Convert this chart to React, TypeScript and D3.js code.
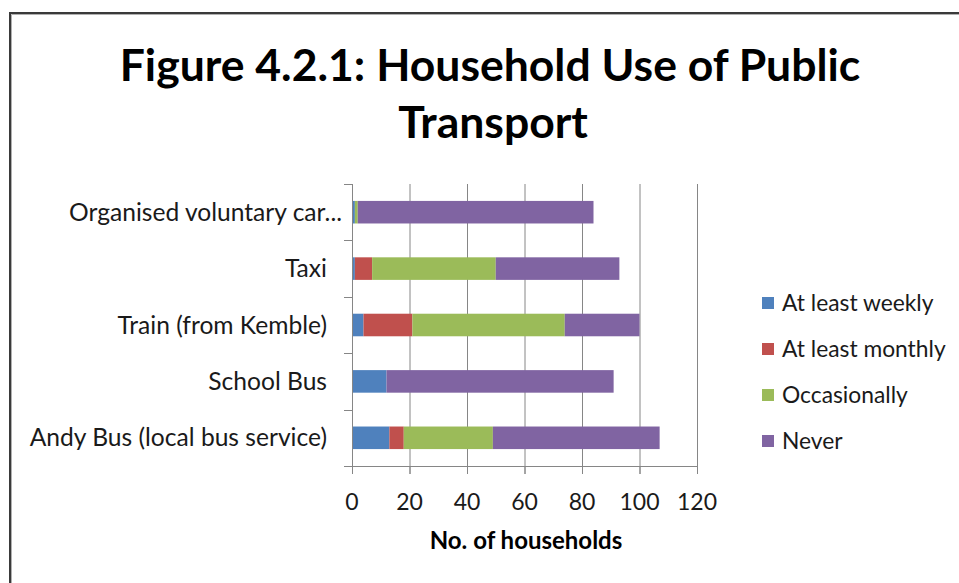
import * as d3 from "d3";
import { useLayoutEffect, useRef } from "react";

const categories = [
  "Organised voluntary car...",
  "Taxi",
  "Train (from Kemble)",
  "School Bus",
  "Andy Bus (local bus service)",
];
const seriesNames = ["At least weekly", "At least monthly", "Occasionally", "Never"];
const weekly = [1, 1, 4, 12, 13];
const monthly = [0, 6, 17, 0, 5];
const occasionally = [1, 43, 53, 0, 31];
const never = [82, 43, 26, 79, 58];
const xTicks = [0, 20, 40, 60, 80, 100, 120];
const colors = ["#4F81BD", "#C0504D", "#9BBB59", "#8064A2"];

const W = 959;
const H = 583;
const FONT = "Lato, 'Open Sans', sans-serif";

export default function App() {
  const ref = useRef<SVGSVGElement>(null);

  useLayoutEffect(() => {
    const svg = d3.select(ref.current);
    svg.selectAll("*").remove();

    // frame
    svg.append("path").attr("d", `M10,${H} V13 H${W}`).attr("fill", "none").attr("stroke", "#3a3a3a").attr("stroke-width", 2);
    svg.append("path").attr("d", `M11.5,${H} V14.5 H${W}`).attr("fill", "none").attr("stroke", "#b0b0b0").attr("stroke-width", 1);

    // title
    const title = svg.append("text").attr("text-anchor", "middle").attr("font-family", FONT)
      .attr("font-weight", "bold").attr("font-size", 44.5).attr("fill", "#000");
    title.append("tspan").attr("x", 490).attr("y", 81).text("Figure 4.2.1: Household Use of Public");
    title.append("tspan").attr("x", 493).attr("y", 138).text("Transport");

    const rows = categories.map((c, i) => ({
      cat: c,
      [seriesNames[0]]: weekly[i],
      [seriesNames[1]]: monthly[i],
      [seriesNames[2]]: occasionally[i],
      [seriesNames[3]]: never[i],
    }));

    const x = d3.scaleLinear().domain([0, 120]).range([352, 697]);
    const y = d3.scaleBand().domain(categories).range([184, 466]).paddingInner(0.6).paddingOuter(0.3);
    const stack = d3.stack<any>().keys(seriesNames)(rows);

    // gridlines
    svg.append("g").selectAll("line").data(xTicks.slice(1)).join("line")
      .attr("x1", (d) => x(d) + 0.5).attr("x2", (d) => x(d) + 0.5)
      .attr("y1", 184).attr("y2", 474)
      .attr("stroke", "#868686").attr("stroke-width", 1);

    // bars
    svg.append("g").selectAll("g").data(stack).join("g")
      .attr("fill", (_, i) => colors[i])
      .selectAll("rect").data((s) => s).join("rect")
      .attr("x", (d) => x(d[0]))
      .attr("width", (d) => x(d[1]) - x(d[0]))
      .attr("y", (d) => y(d.data.cat)!)
      .attr("height", y.bandwidth());

    // y axis
    const yEdges = d3.range(categories.length + 1).map((i) => 184 + i * y.step());
    svg.append("line").attr("x1", 352.5).attr("x2", 352.5).attr("y1", 184).attr("y2", 474)
      .attr("stroke", "#868686");
    svg.append("g").selectAll("line").data(yEdges).join("line")
      .attr("x1", 344).attr("x2", 352).attr("y1", (d) => Math.round(d) + 0.5).attr("y2", (d) => Math.round(d) + 0.5)
      .attr("stroke", "#868686");
    svg.append("g").selectAll("text").data(categories).join("text")
      // Excel lets the truncated label run up to the axis
      .attr("x", (d) => (d.endsWith("...") ? 342 : 327))
      .attr("y", (d) => y(d)! + y.bandwidth() / 2)
      .attr("dy", "0.35em").attr("text-anchor", "end")
      .attr("font-family", FONT).attr("font-size", 24.6).attr("fill", "#1a1a1a")
      .text((d) => d);

    // x axis
    svg.append("line").attr("x1", 344).attr("x2", 698).attr("y1", 466.5).attr("y2", 466.5).attr("stroke", "#868686");
    svg.append("g").selectAll("line").data(xTicks).join("line")
      .attr("x1", (d) => x(d) + 0.5).attr("x2", (d) => x(d) + 0.5).attr("y1", 466).attr("y2", 474)
      .attr("stroke", "#868686");
    svg.append("g").selectAll("text").data(xTicks).join("text")
      .attr("x", (d) => x(d)).attr("y", 510).attr("text-anchor", "middle")
      .attr("font-family", FONT).attr("font-size", 23).attr("fill", "#1a1a1a")
      .text((d) => d);
    svg.append("text").attr("x", 526).attr("y", 549).attr("text-anchor", "middle")
      .attr("font-family", FONT).attr("font-weight", "bold").attr("font-size", 24).attr("fill", "#000")
      .text("No. of households");

    // legend
    const legend = svg.append("g").selectAll("g").data(seriesNames).join("g")
      .attr("transform", (_, i) => `translate(762,${303 + i * 46})`);
    legend.append("rect").attr("x", 0).attr("y", -6).attr("width", 12).attr("height", 12)
      .attr("fill", (_, i) => colors[i]);
    legend.append("text").attr("x", 20).attr("dy", "0.35em")
      .attr("font-family", FONT).attr("font-size", 22.8).attr("fill", "#1a1a1a")
      .text((d) => d);
  }, []);

  return (
    <svg ref={ref} width={W} height={H}
      style={{ position: "absolute", left: 0, top: 0, background: "#fff" }} />
  );
}
